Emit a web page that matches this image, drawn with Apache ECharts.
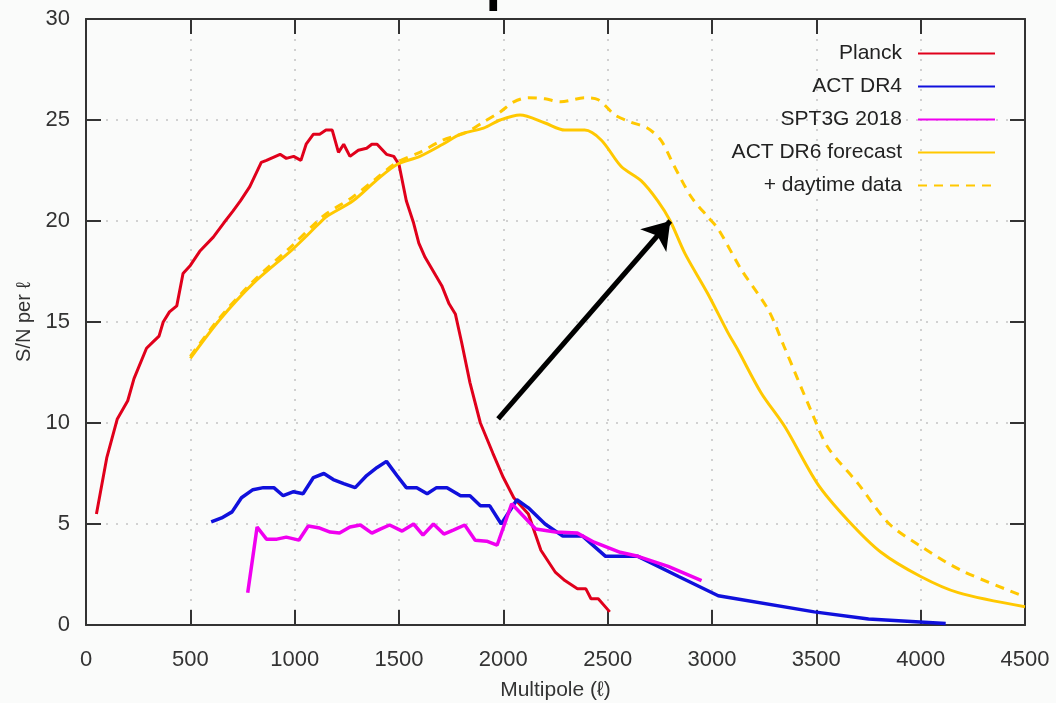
<!DOCTYPE html>
<html>
<head>
<meta charset="utf-8">
<script src="https://cdn.jsdelivr.net/npm/echarts@6/dist/echarts.min.js"></script>
<style>
  html, body { margin: 0; padding: 0; background: #fafbfa; }
  #chart { width: 1056px; height: 703px; }
</style>
</head>
<body>
<div id="chart"></div>
<script>
// values: [multipole, S/N per ell]
const planck = [
  [50, 5.5], [100, 8.3], [150, 10.2], [200, 11.1], [230, 12.2], [290, 13.7], [320, 14.0],
  [350, 14.3], [370, 15.0], [400, 15.5], [435, 15.8], [465, 17.4], [500, 17.8], [545, 18.5],
  [610, 19.2], [660, 19.9], [705, 20.5], [740, 21.0], [785, 21.7], [840, 22.9], [865, 23.0],
  [930, 23.3], [960, 23.1], [995, 23.2], [1030, 23.0], [1055, 23.8], [1090, 24.3], [1120, 24.3],
  [1150, 24.5], [1180, 24.5], [1210, 23.4], [1235, 23.8], [1265, 23.2], [1305, 23.5], [1345, 23.6],
  [1370, 23.8], [1395, 23.8], [1440, 23.3], [1475, 23.2], [1500, 22.8], [1535, 21.0], [1570, 19.9],
  [1595, 18.9], [1625, 18.2], [1665, 17.5], [1705, 16.8], [1740, 15.9], [1770, 15.4], [1800, 14.0],
  [1840, 12.0], [1890, 10.0], [1950, 8.5], [2000, 7.3], [2050, 6.3], [2120, 5.5], [2180, 3.7],
  [2250, 2.6], [2295, 2.2], [2355, 1.8], [2395, 1.8], [2420, 1.3], [2455, 1.3], [2510, 0.65]
];
const actDR4 = [
  [600, 5.1], [650, 5.3], [700, 5.6], [745, 6.3], [800, 6.7], [850, 6.8], [900, 6.8], [945, 6.4],
  [995, 6.6], [1040, 6.5], [1090, 7.3], [1140, 7.5], [1185, 7.2], [1235, 7.0], [1290, 6.8],
  [1345, 7.4], [1395, 7.8], [1440, 8.1], [1490, 7.4], [1535, 6.8], [1585, 6.8], [1635, 6.5],
  [1680, 6.8], [1730, 6.8], [1795, 6.4], [1840, 6.4], [1890, 5.9], [1935, 5.9], [1990, 5.0],
  [2065, 6.2], [2120, 5.8], [2200, 5.0], [2285, 4.4], [2380, 4.4], [2490, 3.4], [2645, 3.4],
  [2840, 2.4], [3030, 1.45], [3490, 0.65], [3750, 0.3], [4120, 0.08]
];
const spt3g = [
  [775, 1.6], [820, 4.85], [865, 4.25], [915, 4.25], [960, 4.35], [1020, 4.2], [1065, 4.9],
  [1120, 4.8], [1170, 4.6], [1215, 4.55], [1265, 4.85], [1315, 4.95], [1370, 4.55], [1410, 4.75],
  [1455, 4.95], [1515, 4.65], [1570, 5.0], [1615, 4.45], [1665, 5.0], [1715, 4.5], [1760, 4.7],
  [1815, 4.95], [1865, 4.2], [1920, 4.15], [1970, 3.95], [2040, 6.0], [2155, 4.75], [2250, 4.6],
  [2355, 4.55], [2435, 4.1], [2560, 3.6], [2645, 3.4], [2790, 2.9], [2950, 2.2]
];
const dr6 = [
  [500, 13.2], [640, 15.1], [800, 16.9], [990, 18.6], [1110, 19.8], [1150, 20.2], [1280, 21.0],
  [1390, 22.0], [1490, 22.8], [1600, 23.2], [1710, 23.8], [1795, 24.3], [1905, 24.6], [1985, 25.0],
  [2080, 25.25], [2200, 24.85], [2295, 24.5], [2390, 24.5], [2470, 24.0], [2565, 22.7], [2660, 22.0],
  [2740, 21.0], [2800, 20.0], [2870, 18.4], [2980, 16.4], [3075, 14.5], [3125, 13.6], [3235, 11.5],
  [3350, 9.8], [3505, 7.0], [3650, 5.2], [3810, 3.6], [4000, 2.4], [4180, 1.6], [4500, 0.9]
];
const dr6Day = [
  [500, 13.3], [640, 15.2], [800, 17.0], [990, 18.8], [1110, 20.0], [1150, 20.35], [1280, 21.2],
  [1390, 22.1], [1490, 22.9], [1600, 23.4], [1710, 24.0], [1825, 24.4], [1905, 24.9], [1985, 25.4],
  [2050, 25.9], [2120, 26.1], [2200, 26.05], [2275, 25.9], [2390, 26.1], [2455, 26.0], [2535, 25.25],
  [2610, 24.9], [2690, 24.6], [2755, 24.0], [2820, 22.7], [2900, 21.2], [2980, 20.2], [3030, 19.6],
  [3140, 17.6], [3270, 15.6], [3345, 13.8], [3475, 10.6], [3555, 8.8], [3700, 7.0], [3845, 5.05],
  [4000, 3.9], [4195, 2.7], [4500, 1.4]
];
// arrow from -> to, in data units
const arrowFrom = [1975, 10.2];
const arrowTo = [2800, 20.0];

const names = ["Planck", "ACT DR4", "SPT3G 2018", "ACT DR6 forecast", "+ daytime data"];
const colors = ["#e0001b", "#1010dc", "#f000f0", "#ffc800", "#ffc800"];

const font = "Liberation Sans, Arial, sans-serif";
const frame = { show: true, onZero: false, lineStyle: { color: "#333", width: 2 } };
const tickIn = { show: true, inside: true, length: 15, lineStyle: { color: "#333", width: 2 } };
const plain = v => String(v);

const chart = echarts.init(document.getElementById("chart"));
chart.setOption({
  animation: false,
  backgroundColor: "#fafbfa",
  textStyle: { fontFamily: font },
  title: {
    text: "Comparison",
    left: 356,
    top: -49,
    textStyle: { fontSize: 56, fontWeight: "bold", color: "#000", fontFamily: font }
  },
  legend: {
    data: names,
    orient: "vertical",
    align: "right",
    right: 55,
    top: 38,
    itemWidth: 77,
    itemHeight: 14,
    itemGap: 12,
    itemStyle: { opacity: 0, borderWidth: 0 },
    textStyle: { fontSize: 21, color: "#222", padding: [0, 11, 0, 0] }
  },
  grid: { left: 86, right: 31, top: 19, bottom: 78, outerBoundsMode: "none", containLabel: false },
  xAxis: [
    {
      type: "value", min: 0, max: 4500, interval: 500,
      name: "Multipole (ℓ)", nameLocation: "middle", nameGap: 55,
      nameTextStyle: { fontSize: 21, color: "#333" },
      axisLine: frame, axisTick: tickIn,
      axisLabel: { fontSize: 22, color: "#333", margin: 24, formatter: plain },
      splitLine: { show: true, lineStyle: { color: "#c4c4c4", type: [2, 8], width: 1.5 } }
    },
    {
      type: "value", min: 0, max: 4500, interval: 500, position: "top",
      axisLine: frame, axisTick: tickIn, axisLabel: { show: false }, splitLine: { show: false }
    }
  ],
  yAxis: [
    {
      type: "value", min: 0, max: 30, interval: 5,
      name: "S/N per ℓ", nameLocation: "middle", nameGap: 43,
      nameTextStyle: { fontSize: 20, color: "#333" },
      axisLine: frame, axisTick: tickIn,
      axisLabel: { fontSize: 22, color: "#333", margin: 16, formatter: plain },
      splitLine: { show: true, lineStyle: { color: "#c4c4c4", type: [2, 8], width: 1.5 } }
    },
    {
      type: "value", min: 0, max: 30, interval: 5, position: "right",
      axisLine: frame, axisTick: tickIn, axisLabel: { show: false }, splitLine: { show: false }
    }
  ],
  series: [
    { name: names[0], type: "line", data: planck, symbol: "none", color: colors[0], lineStyle: { width: 3 } },
    { name: names[1], type: "line", data: actDR4, symbol: "none", color: colors[1], lineStyle: { width: 3.5 } },
    { name: names[2], type: "line", data: spt3g, symbol: "none", color: colors[2], lineStyle: { width: 3.5 } },
    { name: names[3], type: "line", data: dr6, symbol: "none", smooth: 0.3, color: colors[3], lineStyle: { width: 3 } },
    { name: names[4], type: "line", data: dr6Day, symbol: "none", smooth: 0.3, color: colors[4], lineStyle: { width: 3, type: [9, 7] } },
    {
      name: "arrow", type: "line", data: [], silent: true,
      markLine: {
        silent: true,
        symbol: ["none", "arrow"],
        symbolSize: 26,
        label: { show: false },
        lineStyle: { color: "#000", width: 5, type: "solid" },
        data: [[{ coord: arrowFrom }, { coord: arrowTo }]]
      }
    }
  ]
});
</script>
</body>
</html>
